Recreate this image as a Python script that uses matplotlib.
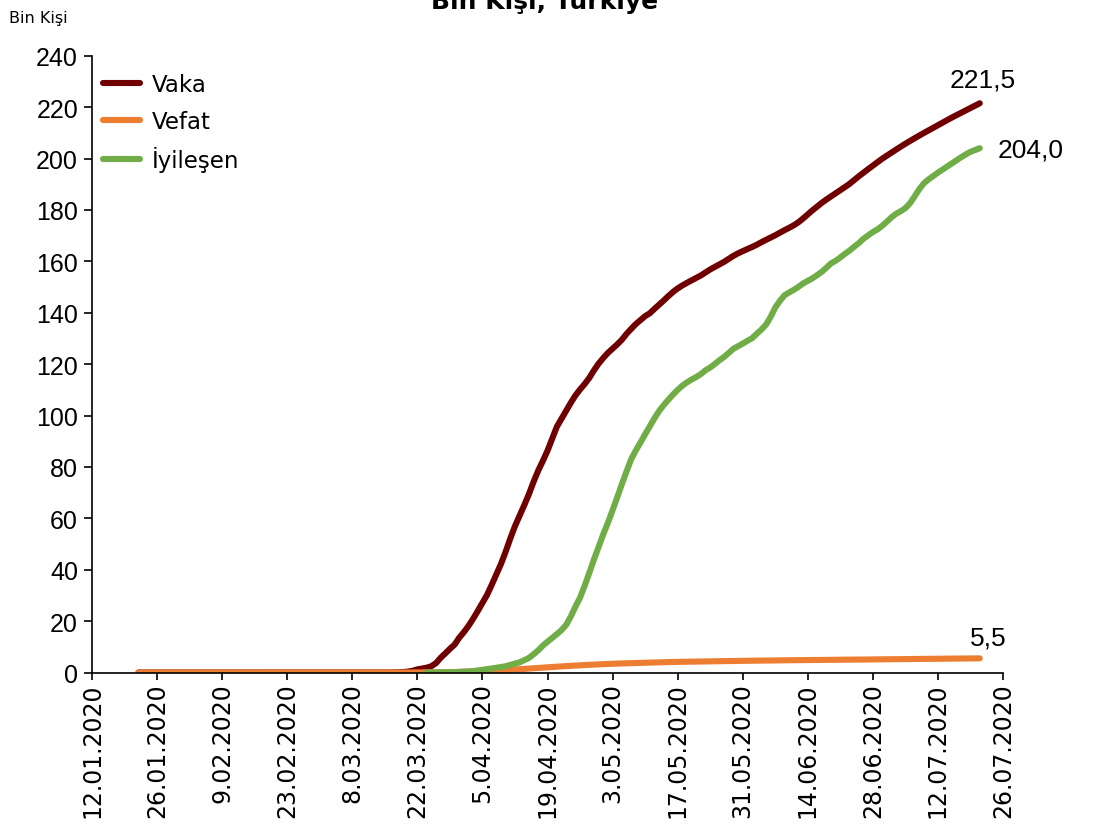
import matplotlib
matplotlib.use("Agg")
import matplotlib.pyplot as plt
import pandas as pd

# ---------------- data (thousand persons) ----------------
vaka_zero_dates = ["22.01.2020", "10.03.2020"]
vaka_zero_values = [0.0, 0.0]
vaka_daily_start = "11.03.2020"
vaka_daily = [
    0.001, 0.001, 0.005, 0.005, 0.006, 0.018, 0.047, 0.098, 0.192, 0.359,
    0.670, 1.236, 1.529, 1.872, 2.433, 3.629, 5.698, 7.402, 9.217, 10.827,
    13.531, 15.679, 18.135, 20.921, 23.934, 27.069, 30.217, 34.109, 38.226, 42.282,
    47.029, 52.167, 56.956, 61.049, 65.111, 69.392, 74.193, 78.546, 82.329, 86.306,
    90.980, 95.591, 98.674, 101.790, 104.912, 107.773, 110.130, 112.261, 114.653, 117.589,
    120.204, 122.392, 124.375, 126.045, 127.659, 129.491, 131.744, 133.721, 135.569, 137.115,
    138.657, 139.771, 141.475, 143.114, 144.749, 146.457, 148.067, 149.435, 150.593, 151.615,
    152.587, 153.548, 154.500, 155.686, 156.827, 157.814, 158.762, 159.797, 160.979, 162.120,
    163.103, 163.942, 164.769, 165.555, 166.422, 167.410, 168.340, 169.218, 170.132, 171.121,
    172.114, 173.036, 174.023, 175.218, 176.677, 178.239, 179.831, 181.298, 182.727, 184.031,
    185.245, 186.493, 187.685, 188.897, 190.165, 191.657, 193.115, 194.511, 195.883, 197.239,
    198.613, 199.906, 201.098, 202.284, 203.456, 204.610, 205.758, 206.844, 207.897, 208.938,
    209.962, 210.965, 211.981, 212.993, 214.001, 214.993, 215.940, 216.873, 217.799, 218.717,
    219.641, 220.572, 221.500,
]

vefat_dates = [
    "22.01.2020", "16.03.2020", "17.03.2020", "20.03.2020", "22.03.2020", "25.03.2020",
    "28.03.2020", "31.03.2020", "03.04.2020", "06.04.2020", "09.04.2020", "12.04.2020",
    "15.04.2020", "18.04.2020", "21.04.2020", "24.04.2020", "27.04.2020", "30.04.2020",
    "03.05.2020", "06.05.2020", "09.05.2020", "12.05.2020", "15.05.2020", "18.05.2020",
    "21.05.2020", "24.05.2020", "27.05.2020", "30.05.2020", "03.06.2020", "06.06.2020",
    "09.06.2020", "12.06.2020", "15.06.2020", "18.06.2020", "21.06.2020", "24.06.2020",
    "27.06.2020", "30.06.2020", "03.07.2020", "06.07.2020", "09.07.2020", "12.07.2020",
    "15.07.2020", "18.07.2020", "21.07.2020",
]
vefat_values = [
    0.0, 0.0, 0.001, 0.004, 0.030, 0.059,
    0.108, 0.214, 0.425, 0.649, 0.908, 1.198,
    1.518, 1.890, 2.259, 2.600, 2.900, 3.174,
    3.397, 3.584, 3.739, 3.894, 4.055, 4.171,
    4.249, 4.340, 4.431, 4.515, 4.609, 4.669,
    4.746, 4.807, 4.861, 4.905, 4.974, 5.025,
    5.065, 5.131, 5.186, 5.241, 5.300, 5.344,
    5.402, 5.451, 5.508,
]

iyilesen_daily_start = "24.03.2020"
iyilesen_daily = [
    0.00, 0.03, 0.03, 0.04, 0.07, 0.11, 0.16, 0.24, 0.33, 0.42,
    0.48, 0.79, 1.04, 1.33, 1.58, 1.85, 2.14, 2.42, 2.97, 3.45,
    3.96, 4.80, 5.67, 7.09, 8.63, 10.45, 11.98, 13.43, 14.92, 16.48,
    18.49, 21.74, 25.58, 29.14, 33.79, 38.81, 44.02, 48.89, 53.81, 58.26,
    63.15, 68.17, 73.29, 78.20, 82.98, 86.40, 89.48, 92.69, 95.78, 98.89,
    101.72, 104.03, 106.13, 108.14, 109.96, 111.58, 112.90, 113.99, 114.99, 116.11,
    117.60, 118.69, 120.02, 121.51, 122.79, 124.37, 125.96, 126.98, 127.97, 129.05,
    130.05, 131.78, 133.40, 135.32, 138.35, 142.00, 144.60, 146.80, 147.90, 148.90,
    150.10, 151.40, 152.40, 153.40, 154.60, 155.90, 157.50, 159.20, 160.20, 161.50,
    162.90, 164.20, 165.70, 167.10, 168.80, 170.10, 171.40, 172.40, 173.80, 175.40,
    177.10, 178.50, 179.50, 180.70, 182.60, 185.30, 188.10, 190.40, 191.90, 193.20,
    194.50, 195.70, 196.90, 198.10, 199.30, 200.50, 201.60, 202.60, 203.30, 204.00,
]

series_names = ["Vaka", "Vefat", "İyileşen"]
series_colors = ["#700000", "#ED7D31", "#70AD47"]

x_tick_labels = [
    "12.01.2020", "26.01.2020", "9.02.2020", "23.02.2020", "8.03.2020",
    "22.03.2020", "5.04.2020", "19.04.2020", "3.05.2020", "17.05.2020",
    "31.05.2020", "14.06.2020", "28.06.2020", "12.07.2020", "26.07.2020",
]
y_ticks = [0, 20, 40, 60, 80, 100, 120, 140, 160, 180, 200, 220, 240]

title_text = "Bin Kişi, Türkiye"
unit_text = "Bin Kişi"

# ---------------- build series ----------------
fmt = "%d.%m.%Y"
vaka_x = list(pd.to_datetime(vaka_zero_dates, format=fmt)) + list(
    pd.date_range(pd.to_datetime(vaka_daily_start, format=fmt), periods=len(vaka_daily), freq="D"))
vaka_y = vaka_zero_values + vaka_daily
vefat_x = list(pd.to_datetime(vefat_dates, format=fmt))
vefat_y = vefat_values
iy_x = list(pd.date_range(pd.to_datetime(iyilesen_daily_start, format=fmt),
                          periods=len(iyilesen_daily), freq="D"))
iy_y = iyilesen_daily

plt.rcParams["font.family"] = ["DejaVu Sans"]
NUM_FONT = ["Liberation Sans", "DejaVu Sans"]

W, H = 1107, 829
fig = plt.figure(figsize=(W / 100, H / 100), dpi=100)
ax = fig.add_axes([92 / W, (H - 673.5) / H, (1003 - 92) / W, (673.5 - 56.7) / H])

lw = 4.4
for (xs, ys), name, col in zip([(vaka_x, vaka_y), (vefat_x, vefat_y), (iy_x, iy_y)],
                               series_names, series_colors):
    ax.plot(xs, ys, color=col, lw=lw, label=name, solid_capstyle="round",
            solid_joinstyle="round")

tick_dates = pd.to_datetime(x_tick_labels, format="%d.%m.%Y")
ax.set_xlim(tick_dates[0], tick_dates[-1])
ax.set_xticks(tick_dates)
ax.set_xticklabels(x_tick_labels, rotation=90, fontsize=17)
ax.set_ylim(0, 240)
ax.set_yticks(y_ticks)
ax.set_yticklabels([str(v) for v in y_ticks], fontsize=18, family=NUM_FONT)

for s in ["top", "right"]:
    ax.spines[s].set_visible(False)
for s in ["left", "bottom"]:
    ax.spines[s].set_linewidth(1.2)
ax.tick_params(axis="x", direction="out", length=5, width=1.2, pad=2)
ax.tick_params(axis="y", direction="out", length=6, width=1.2, pad=4)

leg = ax.legend(loc="upper left", bbox_to_anchor=(0.012, 0.972), frameon=False,
                prop={"size": 16.5}, handlelength=1.6, handletextpad=0.55,
                labelspacing=0.6, borderpad=0, borderaxespad=0)

def fmt_val(v):
    return f"{v:.1f}".replace(".", ",")

ann_kw = dict(textcoords="offset points", va="baseline", fontsize=19, family=NUM_FONT)
ax.annotate(fmt_val(vaka_y[-1]), xy=(vaka_x[-1], vaka_y[-1]), xytext=(2, 12),
            ha="center", **ann_kw)
ax.annotate(fmt_val(iy_y[-1]), xy=(iy_x[-1], iy_y[-1]), xytext=(13, -6),
            ha="left", **ann_kw)
ax.annotate(fmt_val(vefat_y[-1]), xy=(vefat_x[-1], vefat_y[-1]), xytext=(6, 10),
            ha="center", **ann_kw)

fig.text(9 / W, 1 - 23 / H, unit_text, fontsize=11.5, ha="left", va="baseline")
fig.text(545 / W, 1 - 9 / H, title_text, fontsize=18, fontweight="bold",
         ha="center", va="baseline")

fig.savefig("out.png", dpi=100)
